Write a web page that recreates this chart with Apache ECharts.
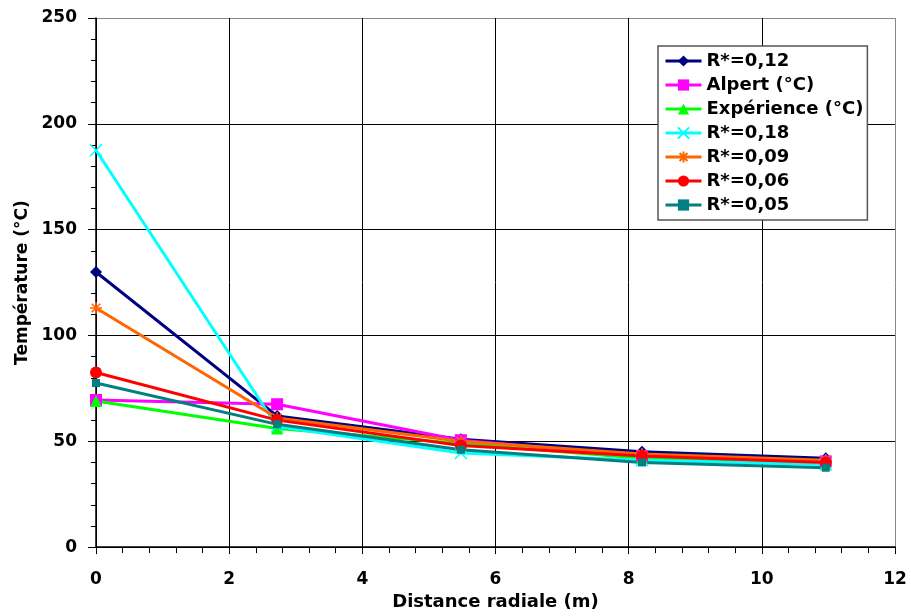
<!DOCTYPE html>
<html><head><meta charset="utf-8">
<script src="https://cdn.jsdelivr.net/npm/echarts@6/dist/echarts.min.js"></script>
<style>html,body{margin:0;padding:0;background:#fff}#c{width:911px;height:616px}</style>
</head><body><div id="c"></div>
<script>
const xValues = [0, 2.72, 5.48, 8.2, 10.96];
const seriesNames = ['R*=0,12', 'Alpert (°C)', 'Expérience (°C)', 'R*=0,18', 'R*=0,09', 'R*=0,06', 'R*=0,05'];
const r012 = [130, 62, 51, 45, 42];
const alpert = [69.5, 67.5, 50.5, 43, 40.5];
const experience = [69, 56, 49, 42, 39.5];
const r018 = [187.5, 57, 44.5, 41, 39];
const r009 = [113, 61, 50, 44, 41];
const r006 = [82.5, 60, 48, 43, 40];
const r005 = [77.5, 58, 46, 40, 37.5];
const xTicks = [0, 2, 4, 6, 8, 10, 12];
const yTicks = [0, 50, 100, 150, 200, 250];

const values = [r012, alpert, experience, r018, r009, r006, r005];
const colors = ['#000080', '#FF00FF', '#00FF00', '#00FFFF', '#FF6600', '#FF0000', '#008080'];
const symbols = ['diamond', 'rect', 'triangle',
  'path://M0,0L10,10M10,0L0,10',
  'path://M5,0L5,10M0,5L10,5M1.5,1.5L8.5,8.5M8.5,1.5L1.5,8.5',
  'circle', 'rect'];
const sizes = [12, 12, 12, 12, 12, 12, 8];
const font = '"DejaVu Sans", sans-serif';

const series = seriesNames.map((n, i) => {
  const stroke = i === 3 || i === 4;
  return {
    name: n, type: 'line',
    data: xValues.map((x, j) => [x, values[i][j]]),
    symbol: symbols[i], symbolSize: sizes[i],
    lineStyle: { color: colors[i], width: 3 },
    itemStyle: stroke ? { color: 'rgba(0,0,0,0)', borderColor: colors[i], borderWidth: 1.5 } : { color: colors[i] },
    showAllSymbol: true,
    animation: false
  };
});

const chart = echarts.init(document.getElementById('c'));
chart.setOption({
  animation: false,
  textStyle: { fontFamily: font },
  grid: { left: 96, right: 16, top: 18, bottom: 66, containLabel: false },
  xAxis: {
    type: 'value', min: 0, max: 12, interval: 2,
    name: 'Distance radiale (m)', nameLocation: 'middle', nameGap: 45,
    nameTextStyle: { fontFamily: font, fontWeight: 'bold', fontSize: 18, color: '#000' },
    axisLine: { lineStyle: { color: '#000', width: 1.5 } },
    axisTick: { show: true, length: 7, inside: false, lineStyle: { color: '#000' } },
    minorTick: { show: true, splitNumber: 5, length: 6, lineStyle: { color: '#000' } },
    axisLabel: { margin: 24, fontFamily: font, fontWeight: 'bold', fontSize: 17, color: '#000',
      formatter: v => xTicks.includes(v) ? String(v) : '' },
    splitLine: { show: true, lineStyle: { color: ['#000', '#000', '#000', '#000', '#000', '#000', '#888'], width: 1 } }
  },
  yAxis: {
    type: 'value', min: 0, max: 250, interval: 50,
    name: 'Température (°C)', nameLocation: 'middle', nameGap: 65, nameRotate: 90,
    nameTextStyle: { fontFamily: font, fontWeight: 'bold', fontSize: 17, color: '#000' },
    axisLine: { show: true, lineStyle: { color: '#000', width: 1.5 } },
    axisTick: { show: true, length: 8, lineStyle: { color: '#000' } },
    minorTick: { show: true, splitNumber: 5, length: 5, lineStyle: { color: '#000' } },
    axisLabel: { margin: 19, fontFamily: font, fontWeight: 'bold', fontSize: 17, color: '#000',
      formatter: v => yTicks.includes(v) ? String(v) : '' },
    splitLine: { show: true, lineStyle: { color: ['#000', '#000', '#000', '#000', '#000', '#888'], width: 1 } }
  },
  legend: {
    orient: 'vertical', left: 658, top: 46,
    backgroundColor: '#fff', borderColor: '#555', borderWidth: 1.5,
    padding: [6, 4, 6, 6], itemGap: 6, itemWidth: 36, itemHeight: 14,
    lineStyle: { width: 3 },
    textStyle: { fontFamily: font, fontWeight: 'bold', fontSize: 18, lineHeight: 18, color: '#000' },
    data: seriesNames
  },
  series: series
});
</script></body></html>
